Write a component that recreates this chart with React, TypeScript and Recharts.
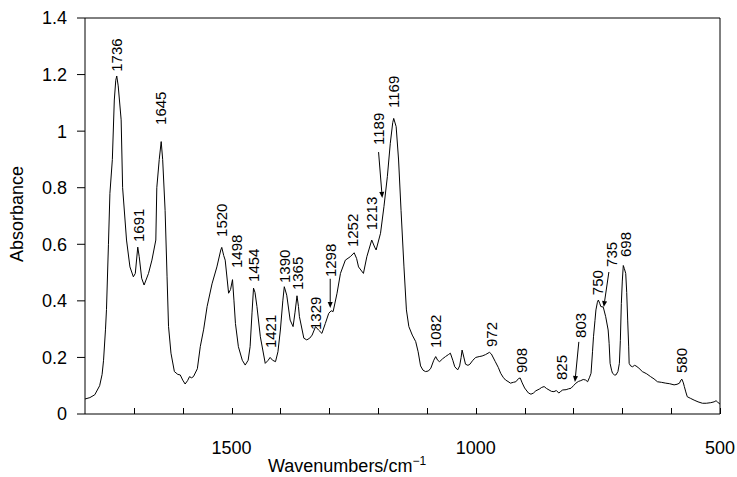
import React from 'react'
import { LineChart, Line, XAxis, YAxis, ReferenceDot, ReferenceLine, Label } from 'recharts'

// IR spectrum: [wavenumber, absorbance]
const spectrum: [number, number][] = [
  [1800, 0.053], [1790, 0.058], [1780, 0.068], [1770, 0.1], [1765, 0.14], [1762, 0.19],
  [1758, 0.3], [1756, 0.37], [1752, 0.6], [1749, 0.78], [1744, 0.9], [1740, 1.11],
  [1737, 1.18], [1735, 1.195], [1732, 1.16], [1726, 1.04], [1723, 0.8], [1715, 0.615],
  [1708, 0.52], [1701, 0.485], [1697, 0.497], [1692, 0.59], [1689, 0.556], [1684, 0.48],
  [1679, 0.456], [1670, 0.497], [1663, 0.544], [1655, 0.615], [1653, 0.8], [1648, 0.9],
  [1644, 0.963], [1641, 0.9], [1636, 0.72], [1632, 0.485], [1629, 0.31], [1624, 0.215],
  [1617, 0.15], [1610, 0.14], [1605, 0.138], [1600, 0.12], [1595, 0.106], [1590, 0.118],
  [1586, 0.132], [1582, 0.128], [1578, 0.132], [1570, 0.16], [1564, 0.238], [1557, 0.3],
  [1550, 0.38], [1540, 0.46], [1530, 0.52], [1522, 0.58], [1520, 0.589], [1516, 0.56],
  [1513, 0.544], [1506, 0.427], [1502, 0.44], [1498, 0.475], [1495, 0.4], [1492, 0.32],
  [1486, 0.238], [1478, 0.19], [1472, 0.173], [1466, 0.19], [1462, 0.238], [1458, 0.36],
  [1455, 0.445], [1452, 0.43], [1448, 0.38], [1441, 0.273], [1431, 0.179], [1425, 0.19],
  [1421, 0.2], [1416, 0.19], [1410, 0.185], [1405, 0.22], [1400, 0.297], [1395, 0.4],
  [1392, 0.45], [1387, 0.42], [1380, 0.332], [1374, 0.309], [1370, 0.36], [1366, 0.418],
  [1363, 0.38], [1361, 0.344], [1352, 0.268], [1346, 0.262], [1340, 0.268], [1335, 0.279],
  [1328, 0.309], [1322, 0.297], [1315, 0.285], [1308, 0.32], [1301, 0.356], [1296, 0.365],
  [1292, 0.362], [1284, 0.427], [1277, 0.497], [1267, 0.544], [1257, 0.556], [1249, 0.57],
  [1244, 0.55], [1240, 0.52], [1230, 0.497], [1223, 0.556], [1213, 0.615], [1207, 0.59],
  [1204, 0.58], [1195, 0.639], [1188, 0.733], [1181, 0.839], [1175, 0.957], [1170, 1.03],
  [1168, 1.045], [1163, 1.016], [1158, 0.898], [1153, 0.72], [1147, 0.52], [1142, 0.368],
  [1137, 0.309], [1130, 0.279], [1123, 0.256], [1118, 0.22], [1113, 0.17], [1108, 0.155],
  [1103, 0.15], [1097, 0.152], [1092, 0.162], [1086, 0.19], [1082, 0.203], [1078, 0.19],
  [1074, 0.185], [1068, 0.195], [1062, 0.203], [1056, 0.21], [1052, 0.215], [1047, 0.19],
  [1043, 0.167], [1037, 0.156], [1033, 0.17], [1030, 0.2], [1028, 0.226], [1025, 0.205],
  [1021, 0.176], [1016, 0.172], [1012, 0.176], [1006, 0.19], [1000, 0.2], [993, 0.203],
  [987, 0.205], [980, 0.21], [972, 0.218], [968, 0.212], [960, 0.185], [954, 0.165],
  [949, 0.144], [944, 0.13], [939, 0.12], [934, 0.115], [929, 0.109], [923, 0.112],
  [918, 0.114], [912, 0.126], [909, 0.127], [905, 0.11], [900, 0.092], [897, 0.085],
  [892, 0.074], [887, 0.07], [882, 0.074], [877, 0.082], [870, 0.088], [865, 0.094],
  [860, 0.097], [855, 0.09], [850, 0.085], [845, 0.08], [840, 0.079], [835, 0.083],
  [830, 0.074], [826, 0.08], [822, 0.085], [815, 0.086], [810, 0.089], [805, 0.091],
  [800, 0.1], [795, 0.109], [790, 0.115], [785, 0.118], [780, 0.122], [775, 0.12],
  [771, 0.114], [767, 0.13], [764, 0.144], [761, 0.22], [759, 0.273], [756, 0.33],
  [754, 0.368], [751, 0.395], [749, 0.403], [746, 0.39], [744, 0.38], [739, 0.378],
  [734, 0.344], [729, 0.297], [727, 0.25], [725, 0.179], [722, 0.155], [720, 0.144],
  [716, 0.138], [713, 0.138], [709, 0.15], [706, 0.179], [704, 0.26], [702, 0.391],
  [700, 0.47], [698, 0.525], [696, 0.515], [693, 0.497], [691, 0.43], [689, 0.332],
  [687, 0.24], [686, 0.179], [683, 0.17], [679, 0.167], [675, 0.172], [672, 0.17],
  [666, 0.162], [659, 0.15], [650, 0.142], [642, 0.132], [635, 0.124], [628, 0.114],
  [620, 0.112], [611, 0.109], [603, 0.107], [594, 0.103], [588, 0.105], [583, 0.109],
  [580, 0.12], [578, 0.123], [575, 0.11], [573, 0.097], [570, 0.078], [567, 0.061],
  [560, 0.055], [553, 0.049], [545, 0.043], [536, 0.038], [528, 0.038], [519, 0.04],
  [512, 0.043], [508, 0.047], [505, 0.042], [502, 0.038], [500, 0.035],
]

// peak labels: text, wavenumber where the label sits, absorbance at the label's lower end
const peakLabels: { text: string; wn: number; y: number }[] = [
  { text: '1736', wn: 1736, y: 1.21 },
  { text: '1691', wn: 1691, y: 0.608 },
  { text: '1645', wn: 1646, y: 1.022 },
  { text: '1520', wn: 1520, y: 0.626 },
  { text: '1498', wn: 1489, y: 0.516 },
  { text: '1454', wn: 1454, y: 0.467 },
  { text: '1421', wn: 1421, y: 0.233 },
  { text: '1390', wn: 1392, y: 0.463 },
  { text: '1365', wn: 1365, y: 0.438 },
  { text: '1329', wn: 1329, y: 0.297 },
  { text: '1298', wn: 1298, y: 0.484 },
  { text: '1252', wn: 1252, y: 0.59 },
  { text: '1213', wn: 1213, y: 0.65 },
  { text: '1189', wn: 1200, y: 0.951 },
  { text: '1169', wn: 1169, y: 1.082 },
  { text: '1082', wn: 1082, y: 0.233 },
  { text: '972', wn: 968, y: 0.237 },
  { text: '908', wn: 906, y: 0.145 },
  { text: '825', wn: 825, y: 0.12 },
  { text: '803', wn: 785, y: 0.269 },
  { text: '750', wn: 750, y: 0.42 },
  { text: '735', wn: 723, y: 0.52 },
  { text: '698', wn: 693, y: 0.555 },
  { text: '580', wn: 579, y: 0.145 },
]

// arrows from a label down to its band
const arrows: { from: [number, number]; to: [number, number] }[] = [
  { from: [1298, 0.478], to: [1298, 0.375] },
  { from: [1199, 0.926], to: [1191.5, 0.764] },
  { from: [789, 0.255], to: [797, 0.113] },
  { from: [727.5, 0.502], to: [738, 0.378] },
]

const xTicks = [1700, 1600, 1500, 1400, 1300, 1200, 1100, 1000, 900, 800, 700, 600, 500]
const xTickLabels = [1500, 1000, 500]
const yTicks = [0, 0.2, 0.4, 0.6, 0.8, 1, 1.2, 1.4]

const data = spectrum.map(([wn, a]) => ({ wn, a }))
const font = '"Liberation Sans", Arial, sans-serif'

// the tick mark points up into the plot; only a few ticks get a number
const XTick = ({ x, y, payload }: any) => {
  const px = Math.round(x) + 0.5
  return (
    <g>
      <path d={`M${px},${y}V${y - 6}`} stroke="#000" strokeWidth={1} fill="none" shapeRendering="crispEdges" />
      {xTickLabels.includes(payload.value) && (
        <text x={x} y={y + 40} textAnchor="middle" fontSize={18} fontFamily={font} fill="#000">
          {payload.value}
        </text>
      )}
    </g>
  )
}

const PeakText = (text: string) => (p: any) => (
  <text
    x={p.cx}
    y={p.cy}
    transform={`rotate(-90 ${p.cx} ${p.cy})`}
    dominantBaseline="central"
    fontSize={15}
    fontFamily={font}
    fill="#000"
  >
    {text}
  </text>
)

const Arrow = (p: any) => {
  const { x1, y1, x2, y2 } = p
  const dx = x2 - x1
  const dy = y2 - y1
  const len = Math.sqrt(dx * dx + dy * dy) || 1
  const ux = dx / len
  const uy = dy / len
  const bx = x2 - ux * 6
  const by = y2 - uy * 6
  return (
    <g>
      <line x1={x1} y1={y1} x2={bx} y2={by} stroke="#000" strokeWidth={1} />
      <polygon
        points={`${x2},${y2} ${bx - uy * 2.5},${by + ux * 2.5} ${bx + uy * 2.5},${by - ux * 2.5}`}
        fill="#000"
      />
    </g>
  )
}

export default function App() {
  return (
    <div style={{ position: 'absolute', left: 0, top: 0, background: '#fff' }}>
      <LineChart width={737} height={477} data={data} margin={{ top: 17, right: 16, left: 0, bottom: 0 }}>
        <XAxis
          dataKey="wn"
          type="number"
          domain={[500, 1800]}
          reversed
          ticks={xTicks}
          interval={0}
          height={63}
          tickSize={0}
          tickMargin={0}
          tickLine={false}
          tick={<XTick />}
          axisLine={{ stroke: '#000' }}
        >
          <Label
            content={({ viewBox }: any) => (
              <text x={viewBox.x + 183} y={viewBox.y + 58} fontSize={18} fontFamily={font} fill="#000">
                Wavenumbers/cm
                <tspan dy={-7} fontSize={12}>−1</tspan>
              </text>
            )}
          />
        </XAxis>
        <XAxis xAxisId="top" orientation="top" type="number" domain={[500, 1800]} reversed height={1}
          tick={false} tickLine={false} axisLine={{ stroke: '#000' }} />
        <YAxis
          type="number"
          domain={[0, 1.4]}
          ticks={yTicks}
          interval={0}
          width={85}
          tickSize={8}
          tickMargin={10}
          tickLine={{ stroke: '#000' }}
          axisLine={{ stroke: '#000' }}
          tick={{ fill: '#000', fontSize: 18, fontFamily: font }}
        >
          <Label
            content={({ viewBox }: any) => {
              const cx = viewBox.x + 17
              const cy = viewBox.y + viewBox.height / 2 - 2
              return (
                <text x={cx} y={cy} transform={`rotate(-90 ${cx} ${cy})`} textAnchor="middle"
                  dominantBaseline="central" fontSize={18} fontFamily={font} fill="#000">
                  Absorbance
                </text>
              )
            }}
          />
        </YAxis>
        <YAxis yAxisId="right" orientation="right" type="number" domain={[0, 1.4]} width={1}
          tick={false} tickLine={false} axisLine={{ stroke: '#000' }} />
        <Line
          type="linear"
          dataKey="a"
          stroke="#000"
          strokeWidth={1}
          dot={false}
          isAnimationActive={false}
        />
        {peakLabels.map((p) => (
          <ReferenceDot key={p.text} x={p.wn} y={p.y} r={0} shape={PeakText(p.text)} />
        ))}
        {arrows.map((a, i) => (
          <ReferenceLine
            key={i}
            segment={[{ x: a.from[0], y: a.from[1] }, { x: a.to[0], y: a.to[1] }]}
            stroke="#000"
            shape={Arrow}
          />
        ))}
      </LineChart>
    </div>
  )
}
